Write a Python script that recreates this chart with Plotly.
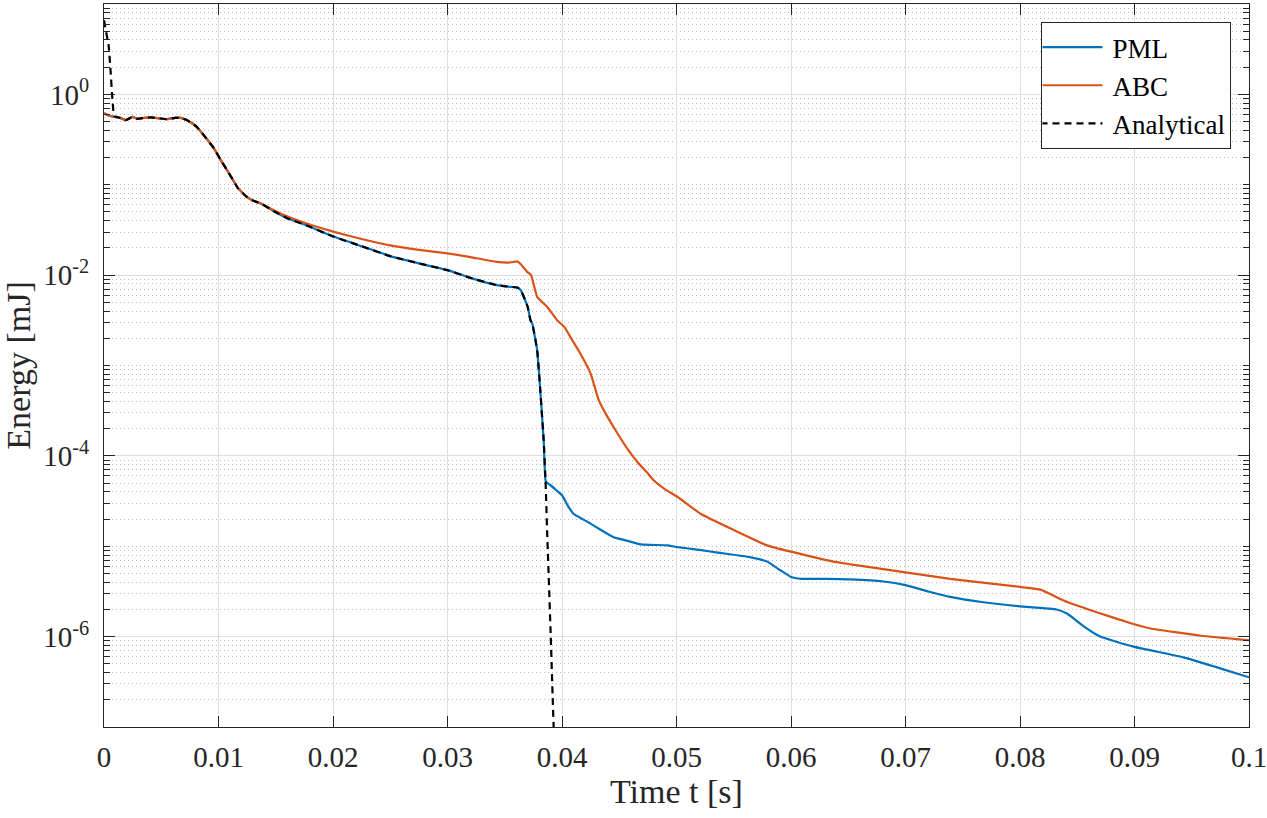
import numpy as np
import plotly.graph_objects as go

# ---------------- data ----------------
# common early part (all three curves coincide), log10 of energy in mJ
t_common = [0.0000, 0.0005, 0.0009, 0.0014, 0.0019, 0.0025, 0.0029, 0.0035, 0.0041,
            0.0048, 0.0055, 0.0062, 0.0067, 0.0073, 0.0081, 0.0087, 0.0096, 0.0102,
            0.0111, 0.0117, 0.0125, 0.0131, 0.0137]
logE_common = [-0.21, -0.24, -0.25, -0.26, -0.284, -0.248, -0.27, -0.26, -0.255,
               -0.265, -0.275, -0.26, -0.26, -0.29, -0.359, -0.45, -0.598, -0.727,
               -0.912, -1.037, -1.137, -1.18, -1.207]

t_pml_tail = [0.0148, 0.0160, 0.0175, 0.0201, 0.0225, 0.0250, 0.0275, 0.0300, 0.0320,
              0.0343, 0.0355, 0.0361, 0.0364, 0.0370, 0.03725, 0.0374, 0.03783, 0.0381,
              0.0384, 0.03856, 0.0387, 0.0390, 0.0395, 0.0400, 0.0405, 0.0410, 0.0418,
              0.0425, 0.0434, 0.0445, 0.0454, 0.0469, 0.0492, 0.0501, 0.0520, 0.0536,
              0.0564, 0.0579, 0.0590, 0.0600, 0.0609, 0.0630, 0.0652, 0.0681, 0.0700,
              0.0720, 0.0739, 0.0768, 0.0800, 0.0832, 0.0841, 0.0849, 0.0856, 0.0870,
              0.0899, 0.0943, 0.0972, 0.1000]
logE_pml_tail = [-1.29, -1.37, -1.44, -1.576, -1.68, -1.79, -1.87, -1.945, -2.03,
                 -2.111, -2.13, -2.137, -2.167, -2.35, -2.50, -2.535, -2.83, -3.27,
                 -3.83, -4.27, -4.30, -4.325, -4.38, -4.436, -4.55, -4.64, -4.70,
                 -4.75, -4.82, -4.90, -4.93, -4.98, -4.99, -5.01, -5.04, -5.07,
                 -5.12, -5.17, -5.26, -5.34, -5.36, -5.36, -5.366, -5.39, -5.43,
                 -5.50, -5.56, -5.62, -5.665, -5.70, -5.745, -5.82, -5.89, -6.00,
                 -6.11, -6.23, -6.34, -6.45]

t_abc_tail = [0.0148, 0.0154, 0.0175, 0.0201, 0.0225, 0.0250, 0.0275, 0.0300, 0.0320,
              0.0343, 0.0355, 0.0361, 0.0364, 0.03696, 0.0373, 0.03783, 0.0387, 0.03958,
              0.0402, 0.0409, 0.0416, 0.0425, 0.0432, 0.0438, 0.0445, 0.0457, 0.0466,
              0.0474, 0.0480, 0.0490, 0.0501, 0.0521, 0.0550, 0.0579, 0.0600, 0.0637,
              0.0652, 0.0700, 0.0739, 0.0800, 0.0818, 0.0838, 0.0867, 0.0899, 0.0914,
              0.0958, 0.1000]
logE_abc_tail = [-1.28, -1.317, -1.42, -1.521, -1.60, -1.67, -1.72, -1.760, -1.80,
                 -1.853, -1.86, -1.848, -1.88, -1.964, -2.00, -2.24, -2.35, -2.50,
                 -2.573, -2.72, -2.867, -3.09, -3.38, -3.53, -3.68, -3.92, -4.07,
                 -4.18, -4.27, -4.37, -4.455, -4.64, -4.82, -4.99, -5.06, -5.17,
                 -5.20, -5.29, -5.36, -5.45, -5.48, -5.60, -5.73, -5.86, -5.91,
                 -5.99, -6.04]

t_ana_head = [0.0000, 0.0002, 0.0004, 0.00057, 0.00074, 0.0009]
logE_ana_head = [0.82, 0.68, 0.546, 0.27, -0.063, -0.24]
t_ana_tail = [0.0387, 0.0390, 0.0392, 0.03935]
logE_ana_tail = [-4.83, -5.93, -6.73, -7.3]

series_names = ["PML", "ABC", "Analytical"]
x_tick_vals = [0.0, 0.01, 0.02, 0.03, 0.04, 0.05, 0.06, 0.07, 0.08, 0.09, 0.1]
x_tick_text = ["0", "0.01", "0.02", "0.03", "0.04", "0.05", "0.06", "0.07", "0.08", "0.09", "0.1"]

# ---------------- build series ----------------
t_pml = t_common + t_pml_tail
e_pml = [10 ** v for v in logE_common + logE_pml_tail]
t_abc = t_common + t_abc_tail
e_abc = [10 ** v for v in logE_common + logE_abc_tail]

pml_until = [(t, v) for t, v in zip(t_pml, logE_common + logE_pml_tail) if 0.0014 <= t <= 0.03856]
t_ana = t_ana_head + [p[0] for p in pml_until] + t_ana_tail
e_ana = [10 ** v for v in logE_ana_head + [p[1] for p in pml_until] + logE_ana_tail]

FONT = "Liberation Serif"
AX = "#262626"
GRID = "#dedede"

fig = go.Figure()
fig.add_trace(go.Scatter(x=t_pml, y=e_pml, mode="lines", name=series_names[0],
                         line=dict(color="#0072BD", width=2.2, shape="spline", smoothing=0.4)))
fig.add_trace(go.Scatter(x=t_abc, y=e_abc, mode="lines", name=series_names[1],
                         line=dict(color="#D95319", width=2.2, shape="spline", smoothing=0.4)))
fig.add_trace(go.Scatter(x=t_ana, y=e_ana, mode="lines", name=series_names[2],
                         line=dict(color="black", width=2.2, dash="7px,5px",
                                   shape="spline", smoothing=0.4)))

minor_vals = []
for k in range(-7, 1):
    for m in range(1, 10):
        v = m * 10.0 ** k
        if m == 1 and k in (-6, -4, -2, 0):
            continue
        minor_vals.append(v)

fig.update_layout(
    width=1267, height=818,
    margin=dict(l=104, r=18, t=4, b=91),
    paper_bgcolor="white", plot_bgcolor="white",
    font=dict(family=FONT, size=29, color=AX),
    showlegend=True,
    legend=dict(x=0.9847, y=0.975, xanchor="right", yanchor="top",
                bgcolor="white", bordercolor=AX, borderwidth=1,
                font=dict(family=FONT, size=27, color="black"),
                itemwidth=60, tracegroupgap=0),
    xaxis=dict(
        range=[0, 0.1], tickmode="array", automargin=False,
        tickvals=x_tick_vals, ticktext=x_tick_text, ticklabeloverflow="allow",
        ticks="inside", ticklen=11, tickcolor=AX, tickwidth=1,
        showline=True, linecolor=AX, linewidth=1, mirror="ticks",
        showgrid=True, gridcolor=GRID, gridwidth=1, zeroline=False,
        title=dict(text="Time t [s]", font=dict(family=FONT, size=34, color=AX), standoff=4),
        tickfont=dict(family=FONT, size=29, color=AX), ticklabelstandoff=4,
    ),
    yaxis=dict(
        type="log", range=[-7, 1], tickmode="array", automargin=False,
        tickvals=[1e-6, 1e-4, 1e-2, 1e0],
        ticktext=["10<sup>-6</sup>", "10<sup>-4</sup>", "10<sup>-2</sup>", "10<sup>0</sup>"],
        ticks="inside", ticklen=11, tickcolor=AX, tickwidth=1,
        showline=True, linecolor=AX, linewidth=1, mirror="ticks",
        showgrid=True, gridcolor=GRID, gridwidth=1, zeroline=False,
        title=dict(text="Energy [mJ]", font=dict(family=FONT, size=34, color=AX), standoff=4),
        tickfont=dict(family=FONT, size=29, color=AX), ticklabelstandoff=8,
        minor=dict(tickmode="array", tickvals=minor_vals, ticks="inside", ticklen=6,
                   tickcolor=AX, showgrid=True, gridcolor="#bdbdbd", griddash="1px,3px",
                   gridwidth=1),
    ),
)

post = """
document.body.style.margin='0';
document.body.style.padding='0';
document.querySelectorAll('.legendlines path').forEach(function(p){p.setAttribute('d','M-2,0h62');});
"""
fig.write_html("out.html", post_script=post, config={"displayModeBar": False})
